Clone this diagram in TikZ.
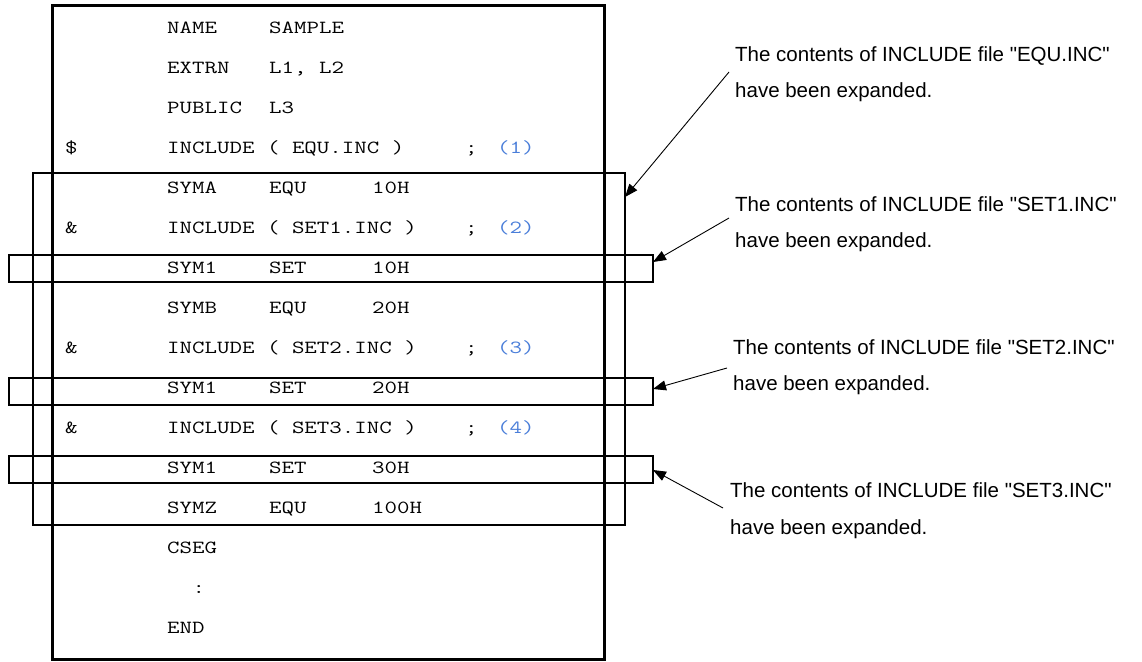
\documentclass[tikz,border=0pt]{standalone}
\usepackage{fontspec}
\setmainfont{Liberation Sans}
\newfontfamily\notefont[Ligatures=TeXOff]{Liberation Sans}
\newfontfamily\codefont[FakeStretch=1.31]{Latin Modern Mono}
\usetikzlibrary{arrows.meta}
\definecolor{numblue}{RGB}{74,126,217}
\tikzset{
  code/.style={anchor=base west, inner sep=0pt, font=\codefont\fontsize{18.5}{20}\selectfont},
  num/.style={code, text=numblue},
  note/.style={anchor=base west, inner sep=0pt, font=\notefont\fontsize{20.5}{24}\selectfont},
  mainbox/.style={draw, line width=3pt, inner sep=0pt, anchor=north west},
  incbox/.style={draw, line width=2pt, inner sep=0pt, anchor=north west},
  pointer/.style={line width=0.9pt, -{Triangle[length=13pt,width=10pt]}},
}
\begin{document}
\begin{tikzpicture}[x=1pt,y=-1pt]
\useasboundingbox (0,0) rectangle (1142,661);
% boxes
\node[mainbox, minimum width=552pt, minimum height=654pt] (main) at (51,4) {};
\node[incbox, minimum width=592pt, minimum height=352pt] (equbox) at (32,172) {};
\node[incbox, minimum width=644pt, minimum height=27pt] (set1box) at (8,254) {};
\node[incbox, minimum width=644pt, minimum height=27pt] (set2box) at (8,377) {};
\node[incbox, minimum width=644pt, minimum height=27pt] (set3box) at (8,455) {};
% code lines (row k centre = 28 + 40k, baseline +5.5)
\node[code] (r0b) at (167,33.5) {NAME};
\node[code] (r0c) at (269,33.5) {SAMPLE};
\node[code] (r1b) at (167,73.5) {EXTRN};
\node[code] (r1c) at (269,73.5) {L1, L2};
\node[code] (r2b) at (167,113.5) {PUBLIC};
\node[code] (r2c) at (269,113.5) {L3};
\node[code] (r3a) at (65,153.5) {\$};
\node[code] (r3b) at (167,153.5) {INCLUDE ( EQU.INC )};
\node[code] (r3e) at (465,153.5) {;};
\node[num]  (r3f) at (497,153.5) {(1)};
\node[code] (r4b) at (167,193.5) {SYMA};
\node[code] (r4c) at (269,193.5) {EQU};
\node[code] (r4d) at (372,193.5) {10H};
\node[code] (r5a) at (65,233.5) {\&};
\node[code] (r5b) at (167,233.5) {INCLUDE ( SET1.INC )};
\node[code] (r5e) at (465,233.5) {;};
\node[num]  (r5f) at (497,233.5) {(2)};
\node[code] (r6b) at (167,273.5) {SYM1};
\node[code] (r6c) at (269,273.5) {SET};
\node[code] (r6d) at (372,273.5) {10H};
\node[code] (r7b) at (167,313.5) {SYMB};
\node[code] (r7c) at (269,313.5) {EQU};
\node[code] (r7d) at (372,313.5) {20H};
\node[code] (r8a) at (65,353.5) {\&};
\node[code] (r8b) at (167,353.5) {INCLUDE ( SET2.INC )};
\node[code] (r8e) at (465,353.5) {;};
\node[num]  (r8f) at (497,353.5) {(3)};
\node[code] (r9b) at (167,393.5) {SYM1};
\node[code] (r9c) at (269,393.5) {SET};
\node[code] (r9d) at (372,393.5) {20H};
\node[code] (r10a) at (65,433.5) {\&};
\node[code] (r10b) at (167,433.5) {INCLUDE ( SET3.INC )};
\node[code] (r10e) at (465,433.5) {;};
\node[num]  (r10f) at (497,433.5) {(4)};
\node[code] (r11b) at (167,473.5) {SYM1};
\node[code] (r11c) at (269,473.5) {SET};
\node[code] (r11d) at (372,473.5) {30H};
\node[code] (r12b) at (167,513.5) {SYMZ};
\node[code] (r12c) at (269,513.5) {EQU};
\node[code] (r12d) at (372,513.5) {100H};
\node[code] (r13b) at (167,553.5) {CSEG};
\node[code] (r14b) at (192.5,593.5) {:};
\node[code] (r15b) at (167,633.5) {END};
% notes
\node[note] (n1a) at (735,61) {The contents of INCLUDE file "EQU.INC"};
\node[note] (n1b) at (735,97) {have been expanded.};
\node[note] (n2a) at (735,211) {The contents of INCLUDE file "SET1.INC"};
\node[note] (n2b) at (735,247) {have been expanded.};
\node[note] (n3a) at (733,354) {The contents of INCLUDE file "SET2.INC"};
\node[note] (n3b) at (733,390) {have been expanded.};
\node[note] (n4a) at (730,497) {The contents of INCLUDE file "SET3.INC"};
\node[note] (n4b) at (730,534) {have been expanded.};
% pointers
\coordinate (s1) at (729,72);
\coordinate (t1) at (625,197);
\coordinate (s2) at (729,218);
\coordinate (t2) at (653,262);
\coordinate (s3) at (727,368);
\coordinate (t3) at (653,389);
\coordinate (s4) at (723,508);
\coordinate (t4) at (653,470);
\draw[pointer] (s1) -- (t1);
\draw[pointer] (s2) -- (t2);
\draw[pointer] (s3) -- (t3);
\draw[pointer] (s4) -- (t4);
\end{tikzpicture}
\end{document}
